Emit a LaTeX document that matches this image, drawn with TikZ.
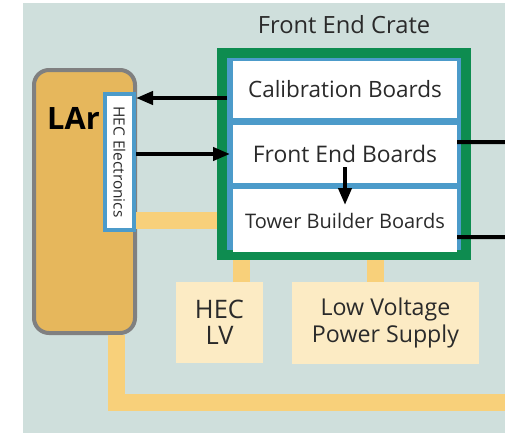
\documentclass[tikz,border=0pt]{standalone}
\usepackage{fontspec}
\setmainfont{Open Sans}
\usepackage{graphicx}
\usetikzlibrary{arrows.meta,positioning}
\definecolor{bgGray}{HTML}{CFDFDC}
\definecolor{larFill}{HTML}{E6B75C}
\definecolor{larEdge}{HTML}{808080}
\definecolor{hecBlue}{HTML}{4C9BCA}
\definecolor{crateGreen}{HTML}{0E8C50}
\definecolor{powerYellow}{HTML}{F8D07A}
\definecolor{supplyFill}{HTML}{FCEBC4}
\definecolor{textGray}{HTML}{2A2A2A}
\tikzset{
  lar/.style={draw=larEdge, fill=larFill, line width=0.08cm, rounded corners=0.3cm,
        minimum width=2.02cm, minimum height=5.26cm},
  hecbox/.style={draw=hecBlue, fill=white, line width=0.08cm, inner sep=0pt,
        minimum width=0.58cm, minimum height=2.72cm, text=textGray,
        font=\fontsize{8.8}{11}\selectfont},
  crate/.style={draw=crateGreen, fill=hecBlue, line width=0.2cm,
        minimum width=4.88cm, minimum height=4.04cm},
  board/.style={fill=white, minimum width=4.48cm, inner sep=0pt, outer sep=0pt,
        align=center, text=textGray, font=\fontsize{12.8}{15}\selectfont},
  supply/.style={fill=supplyFill, align=center, text=textGray, inner sep=0pt},
  sig/.style={-{Triangle[length=0.34cm,width=0.26cm]}, line width=0.08cm, draw=black},
  wire/.style={line width=0.08cm, draw=black},
  power/.style={line width=0.34cm, draw=powerYellow}
}

\begin{document}
\begin{tikzpicture}
\useasboundingbox (0,0) rectangle (10.1,-8.66);
\fill[bgGray] (0.46,-0.06) rectangle (10.1,-8.66);

% detector side
\node[lar] (lar) at (1.69,-4.03) {};
\node[font=\bfseries\fontsize{17.5}{20}\selectfont, text=black] (larlabel) at (1.47,-2.36) {LAr};
\node[hecbox] (hec) at (2.39,-3.24) {\rotatebox{-90}{HEC Electronics}};

% crate
\node[font=\fontsize{13.5}{16}\selectfont, text=textGray] (cratelabel) at (6.88,-0.5) {Front End Crate};
\node[crate] (crate) at (6.88,-3.08) {};
\node[board, minimum height=1.14cm] (calib) at (6.9,-1.79) {Calibration Boards};
\node[board, minimum height=1.16cm, below=0.14cm of calib,
      font=\fontsize{13}{15}\selectfont] (feb) {Front End Boards};
\node[board, minimum height=1.26cm, below=0.12cm of feb,
      font=\fontsize{11.4}{13}\selectfont] (tbb) {Tower Builder Boards};

% supplies
\node[supply, minimum width=1.74cm, minimum height=1.62cm,
      font=\fontsize{14.5}{15}\selectfont] (heclv) at (4.39,-6.45) {HEC\\LV};
\node[supply, minimum width=3.74cm, minimum height=1.64cm,
      font=\fontsize{13.2}{15}\selectfont] (lvps) at (7.71,-6.46) {Low Voltage\\Power Supply};

\coordinate (calin) at ([xshift=-0.12cm,yshift=-0.17cm]calib.west);
\coordinate (febout) at (10.1,-2.84);
\coordinate (tbbout) at (10.1,-4.74);
\coordinate (gnd) at (10.1,-8.04);

% signals
\draw[sig] (calin) -- (calin -| hec.east);
\draw[sig] (hec.east |- feb.west) -- ([xshift=-0.06cm]feb.west);
\draw[sig] ([yshift=0.32cm]feb.south) -- ([yshift=-0.32cm]tbb.north);
\draw[wire] ([yshift=0.24cm]feb.east) -- (febout);
\draw[wire] ([yshift=-0.33cm]tbb.east) -- (tbbout);

% power
\draw[power] (hec.east |- tbb.west) -- (crate.west |- tbb.west);
\draw[power] ([xshift=0.43cm]heclv.north) coordinate (lvtop) -- (lvtop |- crate.south);
\draw[power] ([xshift=-0.21cm]lvps.north) coordinate (pstop) -- (pstop |- crate.south);
\draw[power] ([xshift=0.63cm]lar.south) |- (gnd);
\end{tikzpicture}
\end{document}
